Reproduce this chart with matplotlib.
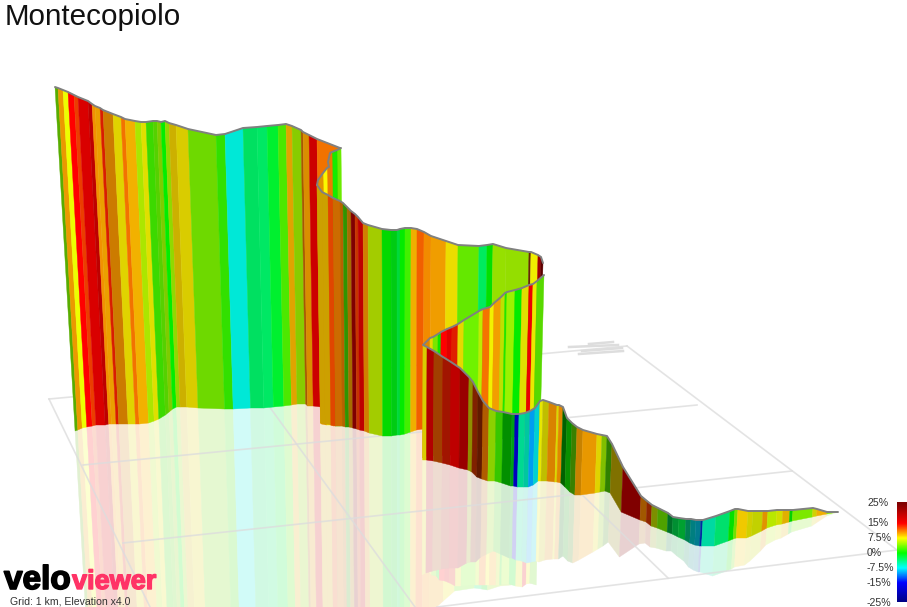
import numpy as np
import matplotlib
matplotlib.use('Agg')
import matplotlib.pyplot as plt
from matplotlib.colors import LinearSegmentedColormap, Normalize
import matplotlib.patheffects as pe

plt.rcParams['font.family'] = ['Liberation Sans', 'DejaVu Sans']

# wall stations: x, top y, base y, then per band gradient (%) and light
a_x = [55, 58, 63, 68, 74, 78, 88, 92, 95, 100, 103, 113, 121, 125, 135, 141, 146, 153, 157, 161, 165, 169, 176, 188, 216, 225, 243, 257, 267, 278, 286, 292, 301, 303, 309, 317, 340]
a_top = [87, 88, 90, 92, 95, 97, 101, 104, 106, 108, 110, 114, 117, 119, 121, 122, 122, 121, 121, 122, 121, 123, 125, 129, 135, 134, 128, 127, 126, 125, 124, 126, 130, 132, 135, 139, 148]
a_base = [431, 430, 428, 427, 426, 425, 425, 424, 424, 424, 424, 424, 424, 424, 423, 421, 419, 415, 412, 409, 407, 407, 407, 408, 409, 409, 408, 408, 407, 406, 405, 404, 404, 406, 406, 407, 412]
a_grade = [3.8, 10, 7, 15, 13, 15, 20, 10.5, 9.8, 14, 10.5, 8, 11.5, 9.5, 5.5, 7.5, 2, 3, 4.5, 0, 5, 8.5, 8, 3.9, 1.7, -7, -3.2, -3.2, -1.5, 2.5, 9.5, 5, 11, 10, 15, 11.5]
a_light = [.68, .92, 1, 1, .92, .85, 1, .95, .92, .85, .8, .88, .95, .95, .9, .88, .85, .82, .8, .93, .85, .8, .85, .85, .88, .91, .88, .91, .94, .91, .88, .8, .65, .85, .8, .95]

e_x = [341, 337, 332, 330, 328, 329, 327, 323, 318, 317]
e_top = [148, 150, 152, 153, 162, 167, 168, 173, 180, 185]
e_base = [426, 426, 426, 426, 425, 425, 425, 425, 424, 423]
e_grade = [3.5, 0.7, 11, 11, 11, 11, 7.5, 10, 10]
e_light = [.92, .92, .92, .92, .92, .92, .98, .88, .88]

b_x = [317, 322, 328, 333, 340, 343, 347, 351, 355, 358, 363, 368, 382, 391, 397, 400, 405, 411, 417, 424, 431, 446, 458, 479, 487, 493, 506, 529, 531, 538, 541, 543]
b_top = [185, 192, 195, 198, 201, 203, 207, 211, 214, 217, 223, 225, 229, 230, 230, 229, 228, 228, 229, 232, 236, 241, 245, 246, 245, 244, 248, 252, 252, 255, 257, 263]
b_base = [423, 424, 425, 426, 426, 427, 427, 428, 429, 430, 431, 433, 436, 436, 435, 435, 434, 432, 430, 429, 425, 421, 418, 417, 417, 417, 417, 418, 418, 419, 420, 421]
b_grade = [9, 9, 12.5, 11, 11, 2.5, 10, 25, 13, 20, 10.5, 6, 0, -0.7, -2, 0, 2, 9.5, 12, 10.7, 10, 8, 3.2, -3, 0, 5, 5, 12, 7.5, 18, 25]
b_light = [.8, .8, .88, .8, .72, .58, .65, 1, .78, 1, .82, .8, .85, .8, .85, .92, .94, .94, .95, .95, .94, .92, .91, .92, .88, .88, .87, .4, .94, .75, .7]

c_x = [423, 430, 433, 438, 441, 447, 452, 458, 464, 479, 483, 490, 494, 501, 505, 507, 515, 522, 529, 533, 537, 544]
c_top = [345, 338, 337, 334, 332, 329, 327, 324, 320, 311, 309, 307, 303, 297, 293, 292, 290, 288, 285, 284, 281, 275]
c_base = [458, 455, 456, 455, 456, 455, 455, 455, 453, 448, 447, 446, 444, 441, 439, 438, 437, 437, 436, 434, 432, 430]
c_grade = [10.5, 8, 4, 0.5, 15, 15, 14, 8, 3.5, 6, 11.5, 7.5, 10, 6.3, 1, 4.8, 0, 7.5, 15, 7.5, 3]
c_light = [.88, .9, .9, .9, 1, .88, .88, .9, .95, .93, .96, .95, .95, .88, .9, .95, .92, .88, .92, .92, .85]

d_x = [423, 427, 434, 443, 451, 460, 469, 473, 478, 483, 489, 496, 503, 512, 515, 519, 525, 530, 535, 540, 543, 549, 557, 559, 563, 567, 572, 577, 583, 597, 602, 607, 612, 623, 641, 647, 652, 658, 668, 673, 679, 686, 691, 696, 701, 703, 716, 730, 735, 738, 748, 753, 763, 768, 777, 783, 790, 793, 813, 817, 827, 838]
d_top = [345, 347, 351, 357, 362, 368, 377, 382, 392, 401, 408, 411, 412, 414, 414, 414, 413, 411, 408, 401, 400, 402, 405, 405, 407, 418, 423, 427, 430, 434, 435, 436, 444, 467, 496, 501, 505, 508, 513, 517, 518, 519, 519, 520, 520, 520, 516, 511, 509, 509, 511, 511, 511, 511, 510, 510, 510, 510, 508, 509, 512, 512]
d_base = [460, 460, 461, 463, 465, 468, 470, 472, 477, 479, 481, 481, 483, 486, 486, 487, 487, 487, 485, 481, 481, 481, 482, 482, 483, 487, 492, 495, 495, 493, 492, 491, 493, 512, 520, 522, 526, 528, 532, 534, 537, 540, 543, 545, 546, 546, 546, 541, 539, 538, 538, 536, 531, 528, 525, 524, 522, 521, 517, 516, 514, 512]
d_grade = [8, 21, 12, 14, 20, 23, 7.5, 13, 13, 11, 5, 2, 0, -1, -15, -5, -6, -10, -7.5, 7.5, 7.5, 10.5, 7.5, 10.5, 0, 0.5, 3.5, 10, 10, 8, 5, 2.8, 8.3, 25, 10.9, 13, 6.5, 3.7, -2.7, -2.7, -2.3, -4.7, -7.5, -8.5, -13, -5.6, -3.7, 0, 3.8, 8.7, 7.5, 6.9, 10, 6, 7, 9, 0, 4, 7.5, 9.4, 4.3]
d_light = [.85, 1, .63, .63, 1, 1, .56, .5, .38, .69, .82, .78, .56, .63, .75, .85, .78, .94, .82, .91, .75, .85, .85, .88, .38, .56, .5, .78, .91, .88, .75, .5, .5, 1, .63, .56, .56, .63, .44, .56, .63, .5, .5, .56, .63, .85, .88, .88, .88, .94, .82, .82, .88, .91, .88, .88, .82, .91, .82, .94, .88]

# floor grid, endpoints in picture pixels
grid_lines = [
    ([49, 627], [399, 346]), ([627, 897], [346, 550]), ([49, 150], [399, 607]),
    ([83, 697], [465, 405]), ([123, 792], [543, 471]), ([437, 897], [607, 550]),
    ([250, 415], [380, 607]), ([445, 668], [362, 578]),
]
grid_marks = [
    ([589, 613], [344, 342]), ([569, 618], [347, 345]), ([582, 622], [351, 348]), ([579, 623], [354, 351]),
]

legend_vals = [25, 15, 7.5, 0, -7.5, -15, -25]
legend_labels = ['25%', '15%', '7.5%', '0%', '-7.5%', '-15%', '-25%']
legend_pos = [503, 523, 538, 553, 568, 583, 603]

grade_stops = [-25, -15, -7.5, 0, 7.5, 15, 25]
grade_colors = ['#000080', '#0000ff', '#00ffff', '#00ff00', '#ffff00', '#ff0000', '#800000']

norm = Normalize(-25, 25)
cmap = LinearSegmentedColormap.from_list('grade', [(norm(g), c) for g, c in zip(grade_stops, grade_colors)])

VX, VY = 400, 6000
PALE = 0.18


def dropX(x, top, y):
    # verticals converge a little towards a far point below the view
    return x + (VX - x) * (y - top) / (VY - top)


def wallColor(grade, light):
    r, g, b, _ = cmap(norm(grade))
    return (r * light, g * light, b * light)


def paleColor(grade, light):
    c = np.array(wallColor(grade, light))
    return tuple(PALE * c + (1 - PALE))


def drawReflection(ax, xs, top, base, grades, lights):
    for i in range(len(grades)):
        low0 = 2 * base[i] - top[i]
        low1 = 2 * base[i + 1] - top[i + 1]
        px = [dropX(xs[i], top[i], base[i]), dropX(xs[i + 1], top[i + 1], base[i + 1]),
              dropX(xs[i + 1], top[i + 1], low1), dropX(xs[i], top[i], low0)]
        py = [base[i], base[i + 1], low1, low0]
        col = paleColor(grades[i], lights[i])
        ax.fill(px, py, facecolor=col, edgecolor=col, lw=0.3, zorder=1)


def drawWall(ax, xs, top, base, grades, lights, z):
    for i in range(len(grades)):
        px = [xs[i], xs[i + 1], dropX(xs[i + 1], top[i + 1], base[i + 1]), dropX(xs[i], top[i], base[i])]
        py = [top[i], top[i + 1], base[i + 1], base[i]]
        col = wallColor(grades[i], lights[i])
        ax.fill(px, py, facecolor=col, edgecolor=col, lw=0.3, zorder=z)
    ax.plot(xs, top, color='#808080', lw=1.4, zorder=z + 0.5, solid_capstyle='round')


fig = plt.figure(figsize=(9.07, 6.07), dpi=100)
ax = fig.add_axes([0, 0, 1, 1])
ax.set_xlim(0, 907)
ax.set_ylim(607, 0)
ax.axis('off')

walls = [
    (a_x, a_top, a_base, a_grade, a_light),
    (e_x, e_top, e_base, e_grade, e_light),
    (b_x, b_top, b_base, b_grade, b_light),
    (c_x, c_top, c_base, c_grade, c_light),
    (d_x, d_top, d_base, d_grade, d_light),
]
for w in walls:
    drawReflection(ax, *w)

for gx, gy in grid_lines:
    ax.plot(gx, gy, color='#dddddd', lw=1.2, alpha=0.8, zorder=2)
for gx, gy in grid_marks:
    ax.plot(gx, gy, color='#dddddd', lw=1.8, zorder=2)

for n, w in enumerate(walls):
    drawWall(ax, *w, 3 + n)

ax.text(5, 17, 'Montecopiolo', fontsize=21.3, color='#111111', va='center', ha='left')

stroke = [pe.withStroke(linewidth=1.2, foreground='black')]
ax.text(4, 589, 'velo', fontsize=24, fontweight='bold', color='black', va='baseline', ha='left', path_effects=stroke, zorder=20)
stroke2 = [pe.withStroke(linewidth=1.0, foreground='#ff3366')]
ax.text(72, 589, 'viewer', fontsize=19.5, fontweight='bold', color='#ff3366', va='baseline', ha='left', path_effects=stroke2, zorder=20)
ax.text(10, 605, 'Grid: 1 km, Elevation x4.0', fontsize=7.6, color='#333333', va='baseline', ha='left', zorder=20)

# gradient key
rows = np.arange(502, 603)
key = np.interp(rows, legend_pos, legend_vals)
ax.imshow(key[:, None], cmap=cmap, norm=norm, extent=[897, 907, 602, 502], aspect='auto', interpolation='bilinear', zorder=20)
ax.set_xlim(0, 907)
ax.set_ylim(607, 0)
for lab, y in zip(legend_labels, legend_pos):
    ax.text(867, y, lab, fontsize=7.6, color='#333333', va='center', ha='left', zorder=20)

fig.savefig('out.png', dpi=100)
